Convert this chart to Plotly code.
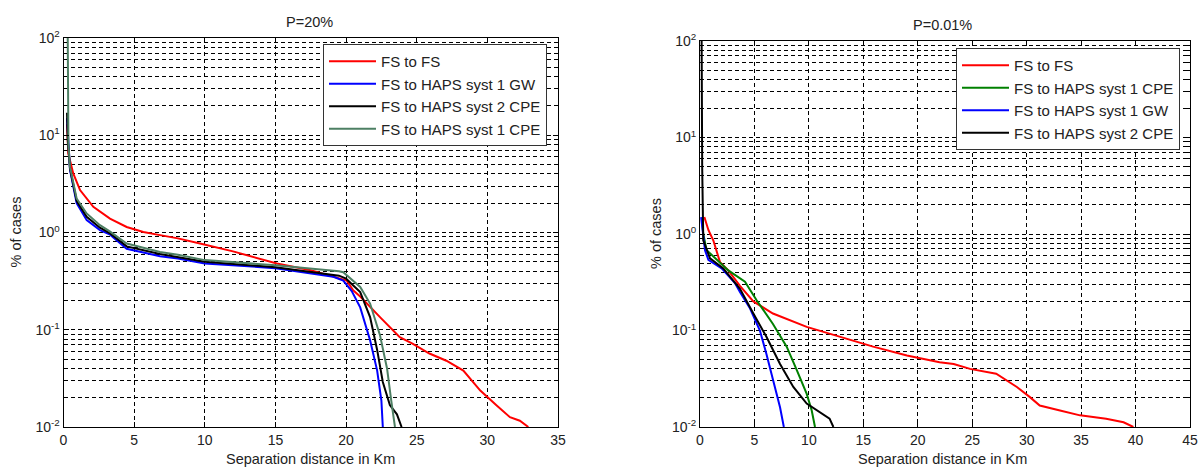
import plotly.graph_objects as go

# ---------------- data: P=20% ----------------
l_fsfs_x = [0.25, 0.34, 0.69, 1.17, 2.11, 3.29, 4.47, 5.65, 6.83, 8.1, 9.66, 12.0, 15.1, 17.5, 20.05, 20.5, 21.0, 21.7, 22.4, 23.8, 24.7, 25.9, 27.1, 28.3, 29.5, 30.66, 31.6, 32.3, 32.9]
l_fsfs_y = [13, 6.5, 4.05, 2.73, 1.84, 1.39, 1.14, 1.01, 0.94, 0.87, 0.77, 0.64, 0.48, 0.41, 0.32, 0.254, 0.22, 0.171, 0.135, 0.084, 0.072, 0.057, 0.048, 0.038, 0.0237, 0.0166, 0.0126, 0.0116, 0.01]

l_gw_x = [0.25, 0.35, 0.46, 0.93, 1.64, 2.58, 3.3, 4.47, 6.83, 8.1, 10.0, 15.0, 19.1, 19.8, 20.4, 21.0, 21.7, 22.2, 22.5, 22.6]
l_gw_y = [15, 7, 4.4, 2.0, 1.34, 1.06, 0.95, 0.68, 0.57, 0.54, 0.48, 0.43, 0.35, 0.32, 0.25, 0.17, 0.078, 0.038, 0.0187, 0.01]

l_s2cpe_x = [0.25, 0.3, 0.46, 0.93, 1.64, 2.58, 3.3, 4.47, 6.83, 8.1, 10.0, 15.0, 19.5, 20.0, 21.0, 21.7, 22.2, 22.6, 23.1, 23.6, 23.93]
l_s2cpe_y = [17, 9, 4.55, 2.12, 1.45, 1.12, 0.98, 0.72, 0.6, 0.56, 0.5, 0.44, 0.36, 0.335, 0.244, 0.135, 0.062, 0.029, 0.0168, 0.0135, 0.01]

l_s1cpe_x = [0.3, 0.3, 0.35, 0.46, 0.93, 1.64, 2.58, 3.3, 4.47, 6.83, 8.1, 10.0, 15.0, 19.5, 19.8, 21.0, 21.7, 22.4, 22.9, 23.2, 23.46]
l_s1cpe_y = [100, 17, 8, 4.7, 2.24, 1.57, 1.19, 1.02, 0.77, 0.63, 0.59, 0.52, 0.46, 0.40, 0.39, 0.275, 0.186, 0.088, 0.04, 0.0186, 0.01]

# ---------------- data: P=0.01% ----------------
r_fsfs_x = [0.4, 0.77, 1.22, 1.53, 1.84, 2.6, 3.67, 4.9, 6.7, 9.8, 12.86, 15.9, 19.0, 22.0, 23.3, 24.8, 27.2, 29.1, 30.3, 31.2, 33.06, 34.9, 37.3, 38.9, 39.8]
r_fsfs_y = [1.5, 1.1, 0.86, 0.68, 0.51, 0.42, 0.29, 0.2, 0.15, 0.109, 0.086, 0.068, 0.055, 0.047, 0.045, 0.040, 0.0357, 0.026, 0.0204, 0.0167, 0.0148, 0.0132, 0.0122, 0.0112, 0.01]

r_s1cpe_x = [0.2, 0.3, 0.61, 1.38, 2.6, 4.13, 5.2, 6.7, 7.96, 8.88, 9.8, 10.26, 10.56]
r_s1cpe_y = [1.3, 1.0, 0.68, 0.56, 0.42, 0.32, 0.206, 0.117, 0.068, 0.039, 0.022, 0.0148, 0.01]

r_gw_x = [0.1, 0.21, 0.46, 0.77, 1.99, 3.21, 3.67, 4.6, 5.5, 6.1, 6.7, 7.35, 7.7]
r_gw_y = [1.5, 1.14, 0.68, 0.54, 0.44, 0.31, 0.25, 0.169, 0.1, 0.057, 0.030, 0.016, 0.01]

r_s2cpe_x = [0.15, 0.2, 0.3, 0.92, 2.14, 3.67, 4.9, 6.1, 7.35, 8.57, 9.8, 11.0, 11.9, 12.25]
r_s2cpe_y = [100, 5, 0.86, 0.56, 0.44, 0.27, 0.15, 0.086, 0.045, 0.026, 0.0175, 0.0143, 0.0122, 0.01]

titles = ["P=20%", "P=0.01%"]
x_title = "Separation distance in Km"
y_title = "% of cases"

y_major_vals = [0.01, 0.1, 1, 10, 100]
y_major_text = ["10<sup>-2</sup>", "10<sup>-1</sup>", "10<sup>0</sup>", "10<sup>1</sup>", "10<sup>2</sup>"]
y_minor_vals = [m * 10 ** e for e in range(-2, 2) for m in range(2, 10)]

FONT = "Liberation Sans, Arial, sans-serif"
TXT = "#222222"
DASH = "4px,3px"

fig = go.Figure()

left_series = [
    ("FS to FS", l_fsfs_x, l_fsfs_y, "#ff0000"),
    ("FS to HAPS syst 1 GW", l_gw_x, l_gw_y, "#0000ff"),
    ("FS to HAPS syst 2 CPE", l_s2cpe_x, l_s2cpe_y, "#000000"),
    ("FS to HAPS syst 1 CPE", l_s1cpe_x, l_s1cpe_y, "#4d7f63"),
]
right_series = [
    ("FS to FS", r_fsfs_x, r_fsfs_y, "#ff0000"),
    ("FS to HAPS syst 1 CPE", r_s1cpe_x, r_s1cpe_y, "#008000"),
    ("FS to HAPS syst 1 GW", r_gw_x, r_gw_y, "#0000ff"),
    ("FS to HAPS syst 2 CPE", r_s2cpe_x, r_s2cpe_y, "#000000"),
]

for name, xs, ys, c in left_series:
    fig.add_trace(go.Scatter(x=xs, y=ys, mode="lines", name=name, line=dict(color=c, width=2),
                             xaxis="x", yaxis="y", legend="legend"))
for name, xs, ys, c in right_series:
    fig.add_trace(go.Scatter(x=xs, y=ys, mode="lines", name=name, line=dict(color=c, width=2),
                             xaxis="x2", yaxis="y2", legend="legend2"))

def xax(domain, rng, anchor):
    return dict(domain=domain, range=rng, dtick=5, tick0=0, anchor=anchor,
                showgrid=True, gridcolor="#000000", griddash=DASH, gridwidth=1,
                showline=True, linecolor="#000000", linewidth=1, mirror="ticks",
                ticks="inside", ticklen=5, tickcolor="#000000",
                tickfont=dict(family=FONT, size=14, color=TXT), zeroline=False, automargin=False)

def yax(domain, anchor):
    return dict(domain=domain, type="log", range=[-2, 2], anchor=anchor,
                tickmode="array", tickvals=y_major_vals, ticktext=y_major_text,
                showgrid=True, gridcolor="#000000", griddash=DASH, gridwidth=1,
                minor=dict(tickmode="array", tickvals=y_minor_vals, showgrid=True,
                           gridcolor="#000000", griddash=DASH, gridwidth=1,
                           ticks="inside", ticklen=3, tickcolor="#000000"),
                showline=True, linecolor="#000000", linewidth=1, mirror="ticks",
                ticks="inside", ticklen=5, tickcolor="#000000",
                tickfont=dict(family=FONT, size=14, color=TXT), zeroline=False, automargin=False)

H = 468.0
W = 1201.0
fig.update_layout(
    width=1201, height=468,
    margin=dict(l=0, r=0, t=0, b=0),
    paper_bgcolor="white", plot_bgcolor="white",
    font=dict(family=FONT, size=14, color=TXT),
    xaxis=xax([63.5 / W, 558 / W], [0, 35], "y"),
    yaxis=yax([(H - 427) / H, (H - 38) / H], "x"),
    xaxis2=xax([700 / W, 1190 / W], [0, 45], "y2"),
    yaxis2=yax([(H - 427) / H, (H - 41) / H], "x2"),
    legend=dict(x=323 / W, y=1 - 44 / H, xanchor="left", yanchor="top",
                bgcolor="white", bordercolor="#333333", borderwidth=1,
                font=dict(family=FONT, size=15, color=TXT), itemwidth=47, tracegroupgap=0),
    legend2=dict(x=956 / W, y=1 - 48 / H, xanchor="left", yanchor="top",
                 bgcolor="white", bordercolor="#333333", borderwidth=1,
                 font=dict(family=FONT, size=15, color=TXT), itemwidth=47, tracegroupgap=0),
    showlegend=True,
)

ann = [
    dict(text=titles[0], x=309 / W, y=1 - 22 / H),
    dict(text=titles[1], x=942 / W, y=1 - 25 / H),
    dict(text=x_title, x=310 / W, y=1 - 459 / H),
    dict(text=x_title, x=942 / W, y=1 - 459 / H),
    dict(text=y_title, x=15.5 / W, y=1 - 232 / H, textangle=-90),
    dict(text=y_title, x=656 / W, y=1 - 234 / H, textangle=-90),
]
for a in ann:
    fig.add_annotation(xref="paper", yref="paper", showarrow=False, xanchor="center", yanchor="middle",
                       font=dict(family=FONT, size=14.5, color=TXT), **a)

fig.write_html("out.html")
